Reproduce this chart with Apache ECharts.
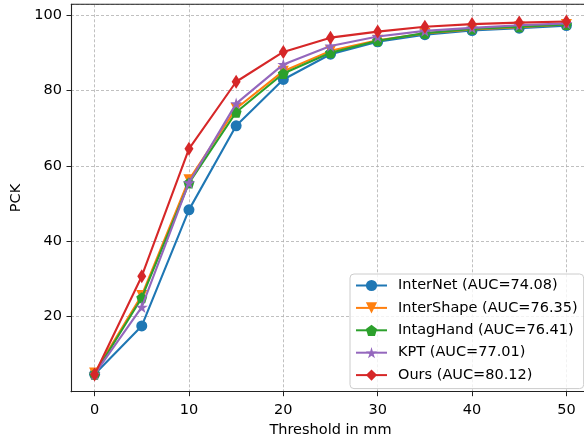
<!DOCTYPE html>
<html><head><meta charset="utf-8">
<script src="https://cdn.jsdelivr.net/npm/echarts@6/dist/echarts.min.js"></script>
<style>html,body{margin:0;padding:0;background:#fff;overflow:hidden}#c{width:590px;height:438px}</style>
</head><body><div id="c"></div>
<script>
const thresholds = [0, 5, 10, 15, 20, 25, 30, 35, 40, 45, 50];
const interNet   = [4.7, 17.5, 48.3, 70.6, 82.9, 89.6, 92.9, 94.8, 95.9, 96.5, 97.2];
const interShape = [5.0, 25.6, 56.3, 75.2, 85.1, 90.5, 93.3, 95.1, 96.2, 96.8, 97.5];
const intagHand  = [4.7, 25.0, 55.4, 74.2, 84.5, 90.0, 93.2, 95.2, 96.3, 96.9, 97.5];
const kpt        = [4.7, 22.5, 55.5, 76.5, 86.9, 91.8, 94.3, 95.8, 96.6, 97.3, 97.8];
const ours       = [4.6, 30.7, 64.5, 82.3, 90.2, 94.0, 95.6, 96.9, 97.6, 98.0, 98.3];
const names = ['InterNet (AUC=74.08)','InterShape (AUC=76.35)','IntagHand (AUC=76.41)','KPT (AUC=77.01)','Ours (AUC=80.12)'];
const colors = ['#1f77b4','#ff7f0e','#2ca02c','#9467bd','#d62728'];
const pentagon = 'path://M0,-1L0.951,-0.309L0.588,0.809L-0.588,0.809L-0.951,-0.309Z';
const star = 'path://M0,-1L0.2245,-0.309L0.951,-0.309L0.363,0.118L0.588,0.809L0,0.382L-0.588,0.809L-0.363,0.118L-0.951,-0.309L-0.2245,-0.309Z';
const symbols = [
  {symbol:'circle', symbolSize:11},
  {symbol:'triangle', symbolSize:11, symbolRotate:180},
  {symbol:pentagon, symbolSize:11},
  {symbol:star, symbolSize:12},
  {symbol:'diamond', symbolSize:[9,14]}
];
const dataSets = [interNet, interShape, intagHand, kpt, ours];
const font = 'DejaVu Sans';
const fs = 14.5;
const series = dataSets.map((d,i)=>Object.assign({
  name: names[i], type:'line', data: thresholds.map((t,j)=>[t,d[j]]),
  color: colors[i], lineStyle:{width:2.1, color:colors[i]}, itemStyle:{color:colors[i]},
  showSymbol:true, animation:false, z:2+i
}, symbols[i]));
const chart = echarts.init(document.getElementById('c'), null, {renderer:'canvas'});
chart.setOption({
  animation:false,
  grid:{left:71, top:4.3, width:519, height:387.4, containLabel:false, outerBoundsMode:'none'},
  xAxis:{type:'value', min:-2.5, max:52.5, splitNumber:5,
    name:'Threshold in mm', nameLocation:'middle', nameGap:30,
    nameTextStyle:{fontFamily:font, fontSize:fs, color:'#000'},
    axisLine:{show:true, onZero:false, lineStyle:{color:'#222', width:1.1}},
    axisTick:{show:true, length:4.5, lineStyle:{color:'#222'}},
    axisLabel:{fontFamily:font, fontSize:fs, color:'#000', showMinLabel:false, showMaxLabel:false, margin:11},
    splitLine:{show:true, lineStyle:{color:'#b0b0b0', type:[3,2], width:0.8}}
  },
  yAxis:{type:'value', min:0.05, max:102.85, splitNumber:5,
    name:'PCK', nameLocation:'middle', nameGap:44,
    nameTextStyle:{fontFamily:font, fontSize:fs, color:'#000'},
    axisLine:{show:true, onZero:false, lineStyle:{color:'#222', width:1.1}},
    axisTick:{show:true, length:4.5, lineStyle:{color:'#222'}},
    axisLabel:{fontFamily:font, fontSize:fs, color:'#000', showMinLabel:false, showMaxLabel:false, margin:9},
    splitLine:{show:true, lineStyle:{color:'#b0b0b0', type:[3,2], width:0.8}}
  },
  graphic:[{type:'line', shape:{x1:71,y1:4.3,x2:590,y2:4.3}, style:{stroke:'#222', lineWidth:1.1}, z:100}],
  legend:{orient:'vertical', left:350, top:274, padding:[4,6,6,5], itemGap:7.4, itemWidth:31, itemHeight:14,
    backgroundColor:'rgba(255,255,255,0.8)', borderColor:'#ccc', borderWidth:1, borderRadius:4,
    textStyle:{fontFamily:font, fontSize:fs, color:'#000', padding:[0,0,0,6]}, data:names},
  series
});
</script></body></html>
